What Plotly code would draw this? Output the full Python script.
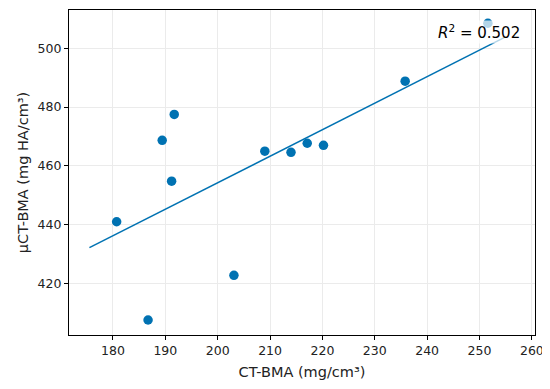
import plotly.graph_objects as go

ct_bma = [180.7, 186.7, 203.1, 191.7, 189.4, 191.2, 235.8, 251.6, 209.0, 214.0, 217.1, 220.2]
uct_bma = [441.0, 407.6, 422.8, 477.5, 468.7, 454.8, 488.8, 508.5, 465.0, 464.6, 467.7, 467.0]
fit_x = [175.5, 254.7]
fit_y = [432.2, 503.6]
r2_text = "<i>R</i><sup>2</sup> = 0.502"

blue = "#0072B2"
font = "DejaVu Sans"

# page body has an 8px default margin; size the figure to compensate
W, H = 542, 381
l, r, t, b = 61, 15, 2, 54

fig = go.Figure()
fig.add_trace(go.Scatter(x=ct_bma, y=uct_bma, mode="markers",
                         marker=dict(color=blue, size=9.5, line=dict(width=0)),
                         showlegend=False))
fig.add_trace(go.Scatter(x=fit_x, y=fit_y, mode="lines",
                         line=dict(color=blue, width=1.5), showlegend=False))

fig.add_annotation(x=(514 - l) / (W - l - r), y=1 - (24 - t) / (H - t - b),
                   xref="paper", yref="paper", text=r2_text,
                   showarrow=False, xanchor="right", yanchor="middle",
                   font=dict(family=font, size=15, color="black"),
                   bgcolor="rgba(255,255,255,0.7)", borderpad=1)

axis_common = dict(showline=True, linecolor="black", linewidth=1.2, mirror=True,
                   ticks="outside", ticklen=4, tickcolor="black", automargin=False,
                   showgrid=True, gridcolor="#ebebeb", gridwidth=0.8, zeroline=False,
                   tickfont=dict(family=font, size=12.5, color="#222"))

fig.update_layout(
    width=W, height=H,
    margin=dict(l=l, r=r, t=t, b=b),
    plot_bgcolor="white", paper_bgcolor="white",
    font=dict(family=font, color="#222"),
    xaxis=dict(range=[171.6, 260.6], tickmode="array", tickvals=list(range(180, 261, 10)),
               title=dict(text="CT-BMA (mg/cm³)", font=dict(family=font, size=14.5), standoff=9),
               **axis_common),
    yaxis=dict(range=[402.5, 513.0], tickmode="array", tickvals=list(range(420, 501, 20)),
               title=dict(text="µCT-BMA (mg HA/cm³)", font=dict(family=font, size=14.5), standoff=5),
               **axis_common),
)

fig.write_html("out.html")
